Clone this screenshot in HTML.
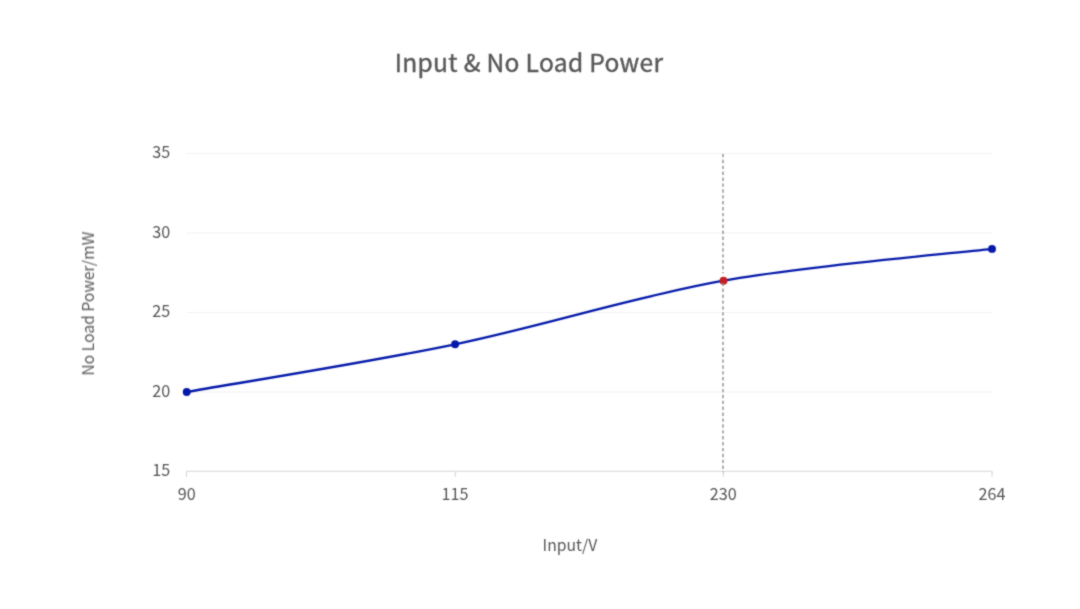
<!DOCTYPE html>
<html lang="en">
<head>
<meta charset="utf-8">
<title>Input &amp; No Load Power</title>
<style>
  html, body { margin: 0; padding: 0; background: #ffffff; }
  body { width: 1080px; height: 609px; overflow: hidden; }
  svg { display: block; }
  text { font-family: "Noto Sans CJK SC", "Liberation Sans", sans-serif; fill: #595959; }
  .title { font-size: 24.6px; letter-spacing: 0.3px; stroke: #595959; stroke-width: 0.4px; }
  .lbl { font-size: 16.2px; fill: #555555; }
  .axt { font-size: 15.7px; fill: #575757; }
</style>
</head>
<body>
<svg width="1080" height="609" viewBox="0 0 1080 609">
  <defs>
    <filter id="soft" x="0" y="0" width="1080" height="609" filterUnits="userSpaceOnUse" color-interpolation-filters="sRGB">
      <feConvolveMatrix order="3" kernelMatrix="1 2 1 2 12 2 1 2 1" divisor="24" edgeMode="duplicate" preserveAlpha="false"/>
    </filter>
  </defs>
  <rect x="0" y="0" width="1080" height="609" fill="#ffffff"/>
  <g filter="url(#soft)">

  <!-- chart title -->
  <text class="title" x="529.0" y="71.9" text-anchor="middle">Input &amp; No Load Power</text>

  <!-- horizontal gridlines -->
  <g stroke="#f1f1f1" stroke-width="1.2" fill="none">
    <line x1="186.5" y1="153.5" x2="992" y2="153.5"/>
    <line x1="186.5" y1="233" x2="992" y2="233"/>
    <line x1="186.5" y1="312.5" x2="992" y2="312.5"/>
    <line x1="186.5" y1="392" x2="992" y2="392"/>
  </g>

  <!-- x axis line and ticks -->
  <line x1="186" y1="471.3" x2="992.5" y2="471.3" stroke="#dfdfdf" stroke-width="1.25"/>
  <g stroke="#d4d4d4" stroke-width="1" fill="none">
    <line x1="186.5" y1="471.5" x2="186.5" y2="476.8"/>
    <line x1="455.3" y1="471.5" x2="455.3" y2="476.8"/>
    <line x1="723.5" y1="471.5" x2="723.5" y2="476.8"/>
    <line x1="992" y1="471.5" x2="992" y2="476.8"/>
  </g>

  <!-- y axis tick labels -->
  <g class="lbl" text-anchor="end">
    <text class="lbl" x="170.3" y="158.4">35</text>
    <text class="lbl" x="170.3" y="237.9">30</text>
    <text class="lbl" x="170.3" y="317.4">25</text>
    <text class="lbl" x="170.3" y="396.9">20</text>
    <text class="lbl" x="170.3" y="476.4">15</text>
  </g>

  <!-- x axis tick labels -->
  <g class="lbl" text-anchor="middle">
    <text class="lbl" x="186.7" y="500">90</text>
    <text class="lbl" x="455" y="500">115</text>
    <text class="lbl" x="723.3" y="500">230</text>
    <text class="lbl" x="992" y="500">264</text>
  </g>

  <!-- axis titles -->
  <text class="axt" x="569.9" y="550.7" text-anchor="middle">Input/V</text>
  <text class="axt" transform="translate(94 303.6) rotate(-90)" text-anchor="middle">No Load Power/mW</text>

  <!-- data curve -->
  <path d="M186.5 392 C231.25 384.05 365.5 362.85 455 344.3 C544.5 325.75 634 296.6 723.5 280.7 C813 264.8 947.25 254.2 992 248.9"
        fill="none" stroke="#0419a9" stroke-width="2.35" stroke-linecap="round" stroke-linejoin="round"/>

  <!-- data points -->
  <circle cx="186.7" cy="392" r="3.95" fill="#0419a9"/>
  <circle cx="455.1" cy="344.2" r="3.95" fill="#0419a9"/>
  <circle cx="992" cy="248.9" r="3.95" fill="#0419a9"/>
  <circle cx="723.5" cy="280.75" r="3.95" fill="#c41f23"/>

  <!-- vertical dashed marker (split around the highlighted point) -->
  <g stroke="#868686" stroke-width="1.3" stroke-dasharray="3.4 2.5" fill="none">
    <line x1="723" y1="153.9" x2="723" y2="273.2"/>
    <line x1="723" y1="282.7" x2="723" y2="472.2"/>
  </g>
  </g>
</svg>
</body>
</html>
